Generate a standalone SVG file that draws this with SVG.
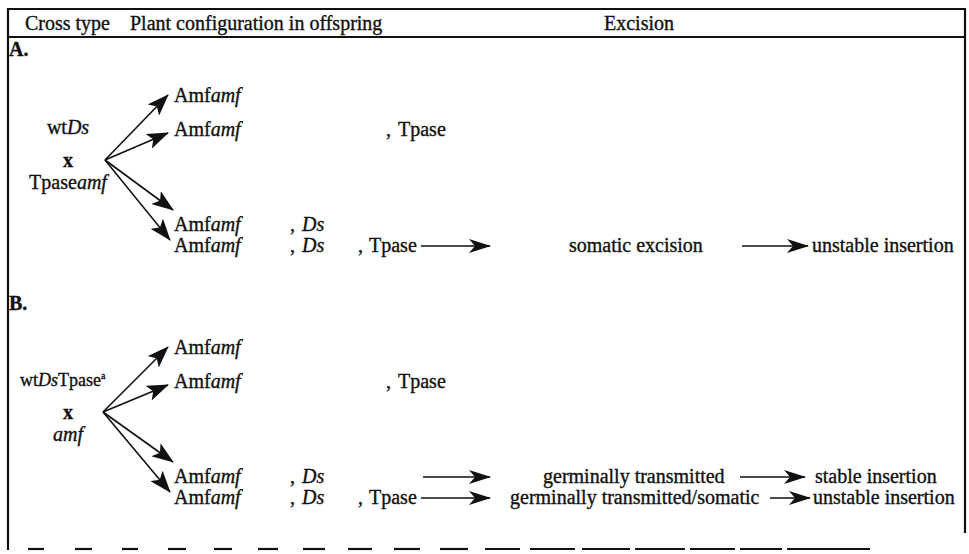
<svg xmlns="http://www.w3.org/2000/svg" width="969" height="554" viewBox="0 0 969 554">
<defs>
<style>
text{font-family:"Liberation Serif","Times New Roman",serif;font-size:20px;fill:#111;stroke:#111;stroke-width:0.35;}
.i{font-style:italic;}
.b{font-weight:bold;}
.frame{stroke:#111;stroke-width:2.2;fill:none;}
.c{stroke:#111;stroke-width:1.6;fill:none;}
.h{stroke:#111;stroke-width:1.5;fill:none;}
</style>
<marker id="big" markerUnits="userSpaceOnUse" markerWidth="22" markerHeight="16" refX="21" refY="8" orient="auto" viewBox="0 0 22 16">
<path d="M0,0 L22,8 L0,16 L5,8 Z" fill="#111"/>
</marker>
<marker id="hz" markerUnits="userSpaceOnUse" markerWidth="22" markerHeight="14" refX="21" refY="7" orient="auto" viewBox="0 0 22 14">
<path d="M0,0 L22,7 L0,14 L6,7 Z" fill="#111"/>
</marker>
</defs>
<rect width="969" height="554" fill="#fff"/>
<g id="frame">
<line class="frame" x1="8" y1="9" x2="966" y2="9"/>
<line class="frame" x1="8" y1="37" x2="966" y2="37"/>
<line class="frame" x1="8" y1="8" x2="8" y2="550"/>
<line class="frame" x1="965" y1="8" x2="965" y2="533"/>
<g stroke="#111" stroke-width="2.2">
<line x1="28" y1="549" x2="44" y2="549"/>
<line x1="75" y1="549" x2="92" y2="549"/>
<line x1="122" y1="549" x2="138" y2="549"/>
<line x1="168" y1="549" x2="186" y2="549"/>
<line x1="214" y1="549" x2="232" y2="549"/>
<line x1="258" y1="549" x2="278" y2="549"/>
<line x1="303" y1="549" x2="325" y2="549"/>
<line x1="348" y1="549" x2="372" y2="549"/>
<line x1="394" y1="549" x2="420" y2="549"/>
<line x1="440" y1="549" x2="468" y2="549"/>
<line x1="485" y1="549" x2="520" y2="549"/>
<line x1="530" y1="549" x2="575" y2="549"/>
<line x1="582" y1="549" x2="630" y2="549"/>
<line x1="635" y1="549" x2="685" y2="549"/>
<line x1="690" y1="549" x2="735" y2="549"/>
<line x1="740" y1="549" x2="782" y2="549"/>
<line x1="787" y1="549" x2="870" y2="549"/>
</g>
</g>
<g id="header">
<text x="25" y="30">Cross type</text>
<text x="130" y="30">Plant configuration in offspring</text>
<text x="639" y="30" text-anchor="middle">Excision</text>
</g>
<g id="sectionA">
<text class="b" x="9" y="56">A.</text>
<g id="crossA">
<text x="68" y="134" text-anchor="middle">wt<tspan class="i">Ds</tspan></text>
<text class="b" x="68" y="167" text-anchor="middle">x</text>
<text x="68" y="189" text-anchor="middle">Tpase<tspan class="i">amf</tspan></text>
</g>
<g id="A1"><text x="174" y="102">Amf<tspan class="i">amf</tspan></text></g>
<g id="A2"><text x="174" y="136">Amf<tspan class="i">amf</tspan></text><text x="386" y="136">,</text><text x="398" y="136">Tpase</text></g>
<g id="A3"><text x="174" y="231">Amf<tspan class="i">amf</tspan></text><text x="290" y="231">,</text><text class="i" x="302" y="231">Ds</text></g>
<g id="A4"><text x="174" y="252">Amf<tspan class="i">amf</tspan></text><text x="290" y="252">,</text><text class="i" x="302" y="252">Ds</text><text x="358" y="252">,</text><text x="369" y="252">Tpase</text></g>
<g id="A4e1"><text x="569" y="252">somatic excision</text></g>
<g id="A4e2"><text x="812" y="252">unstable insertion</text></g>
</g>
<g id="sectionB">
<text class="b" x="9" y="310">B.</text>
<g id="crossB">
<text x="20" y="386" style="font-size:18px">wt<tspan class="i">Ds</tspan>Tpase<tspan dy="-7" style="font-size:10px">a</tspan></text>
<text class="b" x="68" y="419" text-anchor="middle">x</text>
<text class="i" x="68" y="441" text-anchor="middle">amf</text>
</g>
<g id="B1"><text x="174" y="354">Amf<tspan class="i">amf</tspan></text></g>
<g id="B2"><text x="174" y="388">Amf<tspan class="i">amf</tspan></text><text x="386" y="388">,</text><text x="398" y="388">Tpase</text></g>
<g id="B3"><text x="174" y="483">Amf<tspan class="i">amf</tspan></text><text x="290" y="483">,</text><text class="i" x="302" y="483">Ds</text></g>
<g id="B4"><text x="174" y="504">Amf<tspan class="i">amf</tspan></text><text x="290" y="504">,</text><text class="i" x="302" y="504">Ds</text><text x="358" y="504">,</text><text x="369" y="504">Tpase</text></g>
<g id="B3e1"><text x="543" y="483">germinally transmitted</text></g>
<g id="B3e2"><text x="815" y="483">stable insertion</text></g>
<g id="B4e1"><text x="510" y="504">germinally transmitted/somatic</text></g>
<g id="B4e2"><text x="813" y="504">unstable insertion</text></g>
</g>
<g id="connectors">
<line class="c" x1="105" y1="160" x2="168" y2="95" marker-end="url(#big)"/>
<line class="c" x1="105" y1="160" x2="168" y2="133" marker-end="url(#big)"/>
<line class="c" x1="105" y1="160" x2="173" y2="210" marker-end="url(#big)"/>
<line class="c" x1="105" y1="160" x2="170" y2="240" marker-end="url(#big)"/>
<line class="c" x1="103" y1="412" x2="168" y2="347" marker-end="url(#big)"/>
<line class="c" x1="103" y1="412" x2="168" y2="385" marker-end="url(#big)"/>
<line class="c" x1="103" y1="412" x2="173" y2="462" marker-end="url(#big)"/>
<line class="c" x1="103" y1="412" x2="170" y2="492" marker-end="url(#big)"/>
<line class="h" x1="421" y1="246" x2="490" y2="246" marker-end="url(#hz)"/>
<line class="h" x1="742" y1="246" x2="808" y2="246" marker-end="url(#hz)"/>
<line class="h" x1="423" y1="477" x2="490" y2="477" marker-end="url(#hz)"/>
<line class="h" x1="740" y1="477" x2="805" y2="477" marker-end="url(#hz)"/>
<line class="h" x1="421" y1="498" x2="490" y2="498" marker-end="url(#hz)"/>
<line class="h" x1="770" y1="498" x2="810" y2="498" marker-end="url(#hz)"/>
</g>
</svg>
